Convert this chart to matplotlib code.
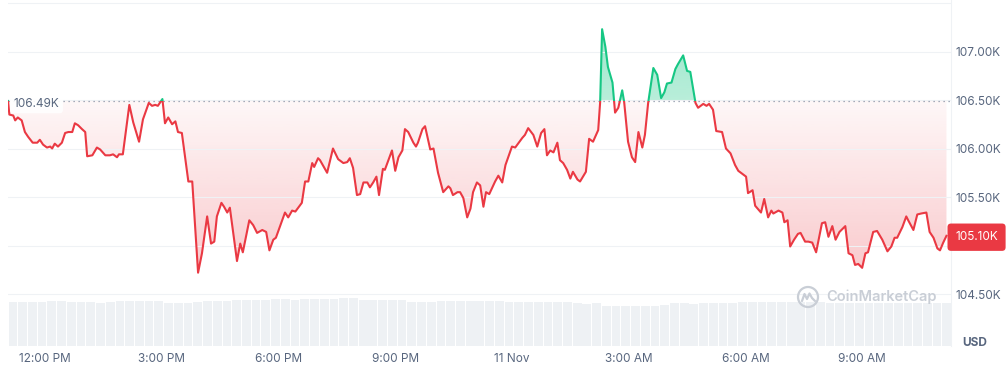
import numpy as np
import matplotlib
matplotlib.use('Agg')
import matplotlib.pyplot as plt
import matplotlib.transforms as mtransforms
from matplotlib.colors import to_rgb
from matplotlib.patches import Rectangle, Ellipse
from matplotlib.path import Path

plt.rcParams['font.family'] = ['Inter', 'DejaVu Sans']

# BTC price, minutes after 12:00 PM (10 Nov), price in thousand USD
minutes = [
    -57, -55, -49, -46, -42, -36, -31, -26, -19, -12,
    -8, -3, 3, 8, 11, 15, 20, 26, 31, 36,
    42, 46, 51, 57, 62, 65, 73, 80, 85, 93,
    100, 105, 111, 114, 120, 130, 136, 145, 151, 160,
    165, 170, 174, 181, 185, 190, 196, 201, 205, 211,
    221, 227, 236, 242, 250, 256, 261, 265, 272, 276,
    281, 285, 296, 301, 305, 315, 321, 327, 335, 341,
    346, 352, 356, 363, 370, 375, 381, 386, 396, 401,
    406, 412, 415, 421, 424, 435, 444, 452, 460, 466,
    470, 475, 481, 486, 491, 497, 501, 506, 511, 515,
    521, 524, 535, 540, 545, 551, 555, 560, 568, 572,
    575, 582, 586, 594, 599, 606, 614, 622, 625, 629,
    636, 640, 645, 651, 656, 660, 666, 671, 676, 680,
    685, 694, 699, 705, 710, 720, 725, 736, 740, 745,
    753, 759, 765, 770, 774, 779, 784, 790, 794, 799,
    805, 810, 814, 821, 825, 834, 839, 845, 853, 856,
    859, 864, 868, 875, 879, 884, 890, 893, 899, 905,
    910, 915, 921, 925, 930, 938, 944, 950, 955, 959,
    966, 972, 976, 984, 990, 995, 1003, 1007, 1015, 1020,
    1024, 1030, 1035, 1044, 1050, 1057, 1064, 1069, 1077, 1081,
    1084, 1091, 1095, 1104, 1109, 1115, 1120, 1123, 1131, 1137,
    1140, 1145, 1149, 1155, 1161, 1165, 1172, 1177, 1183, 1189,
    1198, 1203, 1208, 1214, 1219, 1225, 1234, 1239, 1245, 1249,
    1254, 1260, 1265, 1269, 1277, 1283, 1291, 1299, 1305, 1310,
    1314, 1322, 1328, 1331, 1339, 1345, 1351, 1359, 1364, 1370,
    1376, 1380, 1385, 1390,
]
price = [
    106.49, 106.35, 106.34, 106.29, 106.32, 106.29, 106.17, 106.12, 106.06, 106.06,
    106.09, 106.04, 106.01, 106.02, 106.00, 106.05, 106.02, 106.06, 106.16, 106.17,
    106.17, 106.26, 106.24, 106.20, 106.17, 105.92, 105.93, 106.01, 105.99, 105.93,
    105.93, 105.94, 105.91, 105.94, 105.94, 106.45, 106.27, 106.07, 106.30, 106.47,
    106.44, 106.45, 106.44, 106.51, 106.26, 106.32, 106.25, 106.28, 106.17, 106.16,
    105.66, 105.66, 104.72, 104.92, 105.30, 105.02, 105.04, 105.30, 105.44, 105.40,
    105.34, 105.39, 104.84, 105.02, 104.93, 105.26, 105.21, 105.13, 105.16, 105.14,
    104.95, 105.06, 105.08, 105.21, 105.34, 105.29, 105.36, 105.35, 105.44, 105.66,
    105.66, 105.85, 105.81, 105.90, 105.88, 105.75, 106.00, 105.89, 105.85, 105.86,
    105.90, 105.80, 105.52, 105.53, 105.65, 105.65, 105.60, 105.65, 105.71, 105.52,
    105.79, 105.78, 105.98, 105.77, 105.91, 105.98, 106.20, 106.17, 106.06, 106.02,
    106.06, 106.20, 106.23, 105.99, 106.00, 105.75, 105.55, 105.61, 105.59, 105.52,
    105.55, 105.55, 105.49, 105.29, 105.38, 105.55, 105.65, 105.62, 105.40, 105.55,
    105.53, 105.66, 105.72, 105.65, 105.83, 106.02, 106.01, 106.11, 106.14, 106.21,
    106.14, 106.02, 106.16, 106.20, 105.93, 105.98, 105.96, 106.06, 105.88, 105.85,
    105.78, 105.69, 105.76, 105.68, 105.66, 105.76, 106.10, 106.07, 106.19, 106.48,
    107.23, 107.05, 106.84, 106.68, 106.37, 106.42, 106.60, 106.48, 106.07, 105.91,
    105.86, 106.17, 106.01, 106.14, 106.47, 106.83, 106.76, 106.52, 106.58, 106.67,
    106.68, 106.82, 106.87, 106.96, 106.80, 106.79, 106.47, 106.42, 106.46, 106.44,
    106.46, 106.40, 106.18, 106.17, 106.00, 105.95, 105.83, 105.77, 105.73, 105.71,
    105.54, 105.57, 105.41, 105.34, 105.48, 105.29, 105.36, 105.33, 105.36, 105.34,
    105.24, 105.26, 104.99, 105.06, 105.12, 105.13, 105.04, 105.04, 105.03, 104.93,
    105.23, 105.24, 105.09, 105.20, 105.06, 105.14, 105.20, 104.92, 104.90, 104.80,
    104.81, 104.77, 104.92, 104.93, 105.14, 105.15, 105.06, 104.94, 104.99, 105.08,
    105.08, 105.19, 105.30, 105.26, 105.16, 105.32, 105.33, 105.34, 105.14, 105.08,
    104.97, 104.95, 105.03, 105.10,
]

# 15-minute volume bars (arbitrary units), first bar starts at minute -57
vol_start = -57
vol_step = 15
volume = [
    443, 441, 444, 442, 452, 454, 437, 436, 438, 435,
    437, 449, 451, 448, 452, 450, 433, 434, 432, 436,
    451, 453, 452, 458, 461, 459, 462, 466, 468, 465,
    467, 469, 466, 470, 476, 478, 461, 458, 460, 457,
    462, 443, 445, 442, 452, 454, 451, 453, 455, 452,
    450, 441, 439, 442, 440, 438, 441, 437, 427, 425,
    428, 404, 402, 403, 401, 405, 403, 406, 426, 428,
    425, 427, 429, 426, 430, 440, 441, 439, 442, 440,
    438, 441, 443, 440, 433, 432, 434, 431, 433, 435,
    432, 434, 431, 433, 432, 434, 433,
]

open_price = 106.49
last_price = 105.10

x_ticks = [0, 180, 360, 540, 720, 900, 1080, 1260]
x_labels = ['12:00 PM', '3:00 PM', '6:00 PM', '9:00 PM', '11 Nov',
            '3:00 AM', '6:00 AM', '9:00 AM']
y_ticks = [104.5, 105.0, 105.5, 106.0, 106.5, 107.0, 107.5]
y_labels = ['104.50K', '105.00K', '105.50K', '106.00K', '106.50K', '107.00K', '']

RED = '#ea3943'
GREEN = '#16c784'
TEXT = '#58667e'
GRID = '#eff2f5'


def gradient_fill(ax, t, p, base, color, where, a_near, a_far, far):
    coll = ax.fill_between(t, p, base, where=where, interpolate=True,
                           facecolor='none', edgecolor='none')
    path = Path.make_compound_path(*coll.get_paths())
    n = 256
    rgba = np.zeros((n, 1, 4))
    rgba[..., :3] = to_rgb(color)
    lo, hi = sorted([base, far])
    if far > base:
        rgba[:, 0, 3] = np.linspace(a_near, a_far, n)
    else:
        rgba[:, 0, 3] = np.linspace(a_far, a_near, n)
    im = ax.imshow(rgba, extent=[t[0], t[-1], lo, hi], origin='lower',
                   aspect='auto', zorder=1, interpolation='bilinear')
    im.set_clip_path(path, ax.transData)


t = np.array(minutes, dtype=float)
p = np.array(price)

fig = plt.figure(figsize=(10.07, 3.69), dpi=100)
rect = [0.008, 0.0623, 0.9364, 0.9377]
xlo, xhi = -57, 1397
ylo, yhi = 103.964, 107.531

# volume underneath
ax_vol = fig.add_axes(rect)
ax_vol.bar(vol_start + vol_step * (np.arange(len(volume)) + 0.5), volume,
           width=vol_step * 0.9, color='#eef1f4', linewidth=0)
ax_vol.set_xlim(xlo, xhi)
ax_vol.set_ylim(0, 3460)
ax_vol.axis('off')

ax = fig.add_axes(rect)
ax.patch.set_visible(False)

gradient_fill(ax, t, p, open_price, RED, p <= open_price, 0.04, 0.27, p.min())
gradient_fill(ax, t, p, open_price, GREEN, p >= open_price, 0.3, 0.42, p.max())

above = Rectangle((xlo, open_price), xhi - xlo, yhi - open_price,
                  transform=ax.transData)
below = Rectangle((xlo, ylo), xhi - xlo, open_price - ylo,
                  transform=ax.transData)
lg, = ax.plot(t, p, color=GREEN, lw=1.5, zorder=3, solid_joinstyle='round')
lg.set_clip_path(above)
lr, = ax.plot(t, p, color=RED, lw=1.5, zorder=3, solid_joinstyle='round')
lr.set_clip_path(below)

ax.axhline(open_price, color='#8a93a6', lw=0.9, ls=(0, (1, 3)), zorder=2)

ax.set_xlim(xlo, xhi)
ax.set_ylim(ylo, yhi)
ax.set_xticks(x_ticks, x_labels)
ax.yaxis.tick_right()
ax.set_yticks(y_ticks, y_labels)
ax.tick_params(axis='both', length=0, labelsize=8.5, labelcolor=TEXT)
ax.tick_params(axis='x', pad=5)
ax.tick_params(axis='y', pad=3)
ax.grid(axis='y', color=GRID, lw=0.8, zorder=0)
for side in ['top', 'left', 'bottom']:
    ax.spines[side].set_visible(False)
ax.spines['right'].set_color(GRID)
ax.spines['right'].set_linewidth(0.8)

blend = mtransforms.blended_transform_factory(ax.transAxes, ax.transData)
ax.annotate('106.49K', xy=(0, open_price), xycoords=blend,
            xytext=(4, -2), textcoords='offset points', ha='left', va='center',
            fontsize=8.5, color=TEXT, zorder=5,
            bbox=dict(boxstyle='round,pad=0.3', fc='white', ec='none', alpha=0.9))
ax.annotate('105.10K', xy=(1, last_price), xycoords=blend,
            xytext=(3, -1), textcoords='offset points', ha='left', va='center',
            fontsize=8.5, color='white', zorder=6, annotation_clip=False,
            bbox=dict(boxstyle='round,pad=0.65,rounding_size=0.3', fc=RED, ec='none'))

fig.text(975 / 1007, 1 - 343 / 369, 'USD', ha='center', va='center',
         fontsize=8.5, fontweight='bold', color=TEXT)

# watermark
wm = '#c9ced6'
fig.text(826 / 1007, 1 - 297 / 369, 'CoinMarketCap', ha='left', va='center',
         fontsize=10.5, fontweight='semibold', color=wm)
cx, cy = 808 / 1007, 1 - 297 / 369
fig.add_artist(Ellipse((cx, cy), 20 / 1007, 20 / 369, fc='none', ec=wm,
                       lw=1.6, transform=fig.transFigure))
mx = [-6, -3.5, -1, 1.5, 4, 7]
my = [-4, 3, -2, 3.5, -1, -4]
fig.add_artist(plt.Line2D([cx + v / 1007 for v in mx], [cy + v / 369 for v in my],
                          color=wm, lw=1.6, transform=fig.transFigure,
                          solid_joinstyle='round', solid_capstyle='round'))

fig.savefig('out.png', dpi=100)
